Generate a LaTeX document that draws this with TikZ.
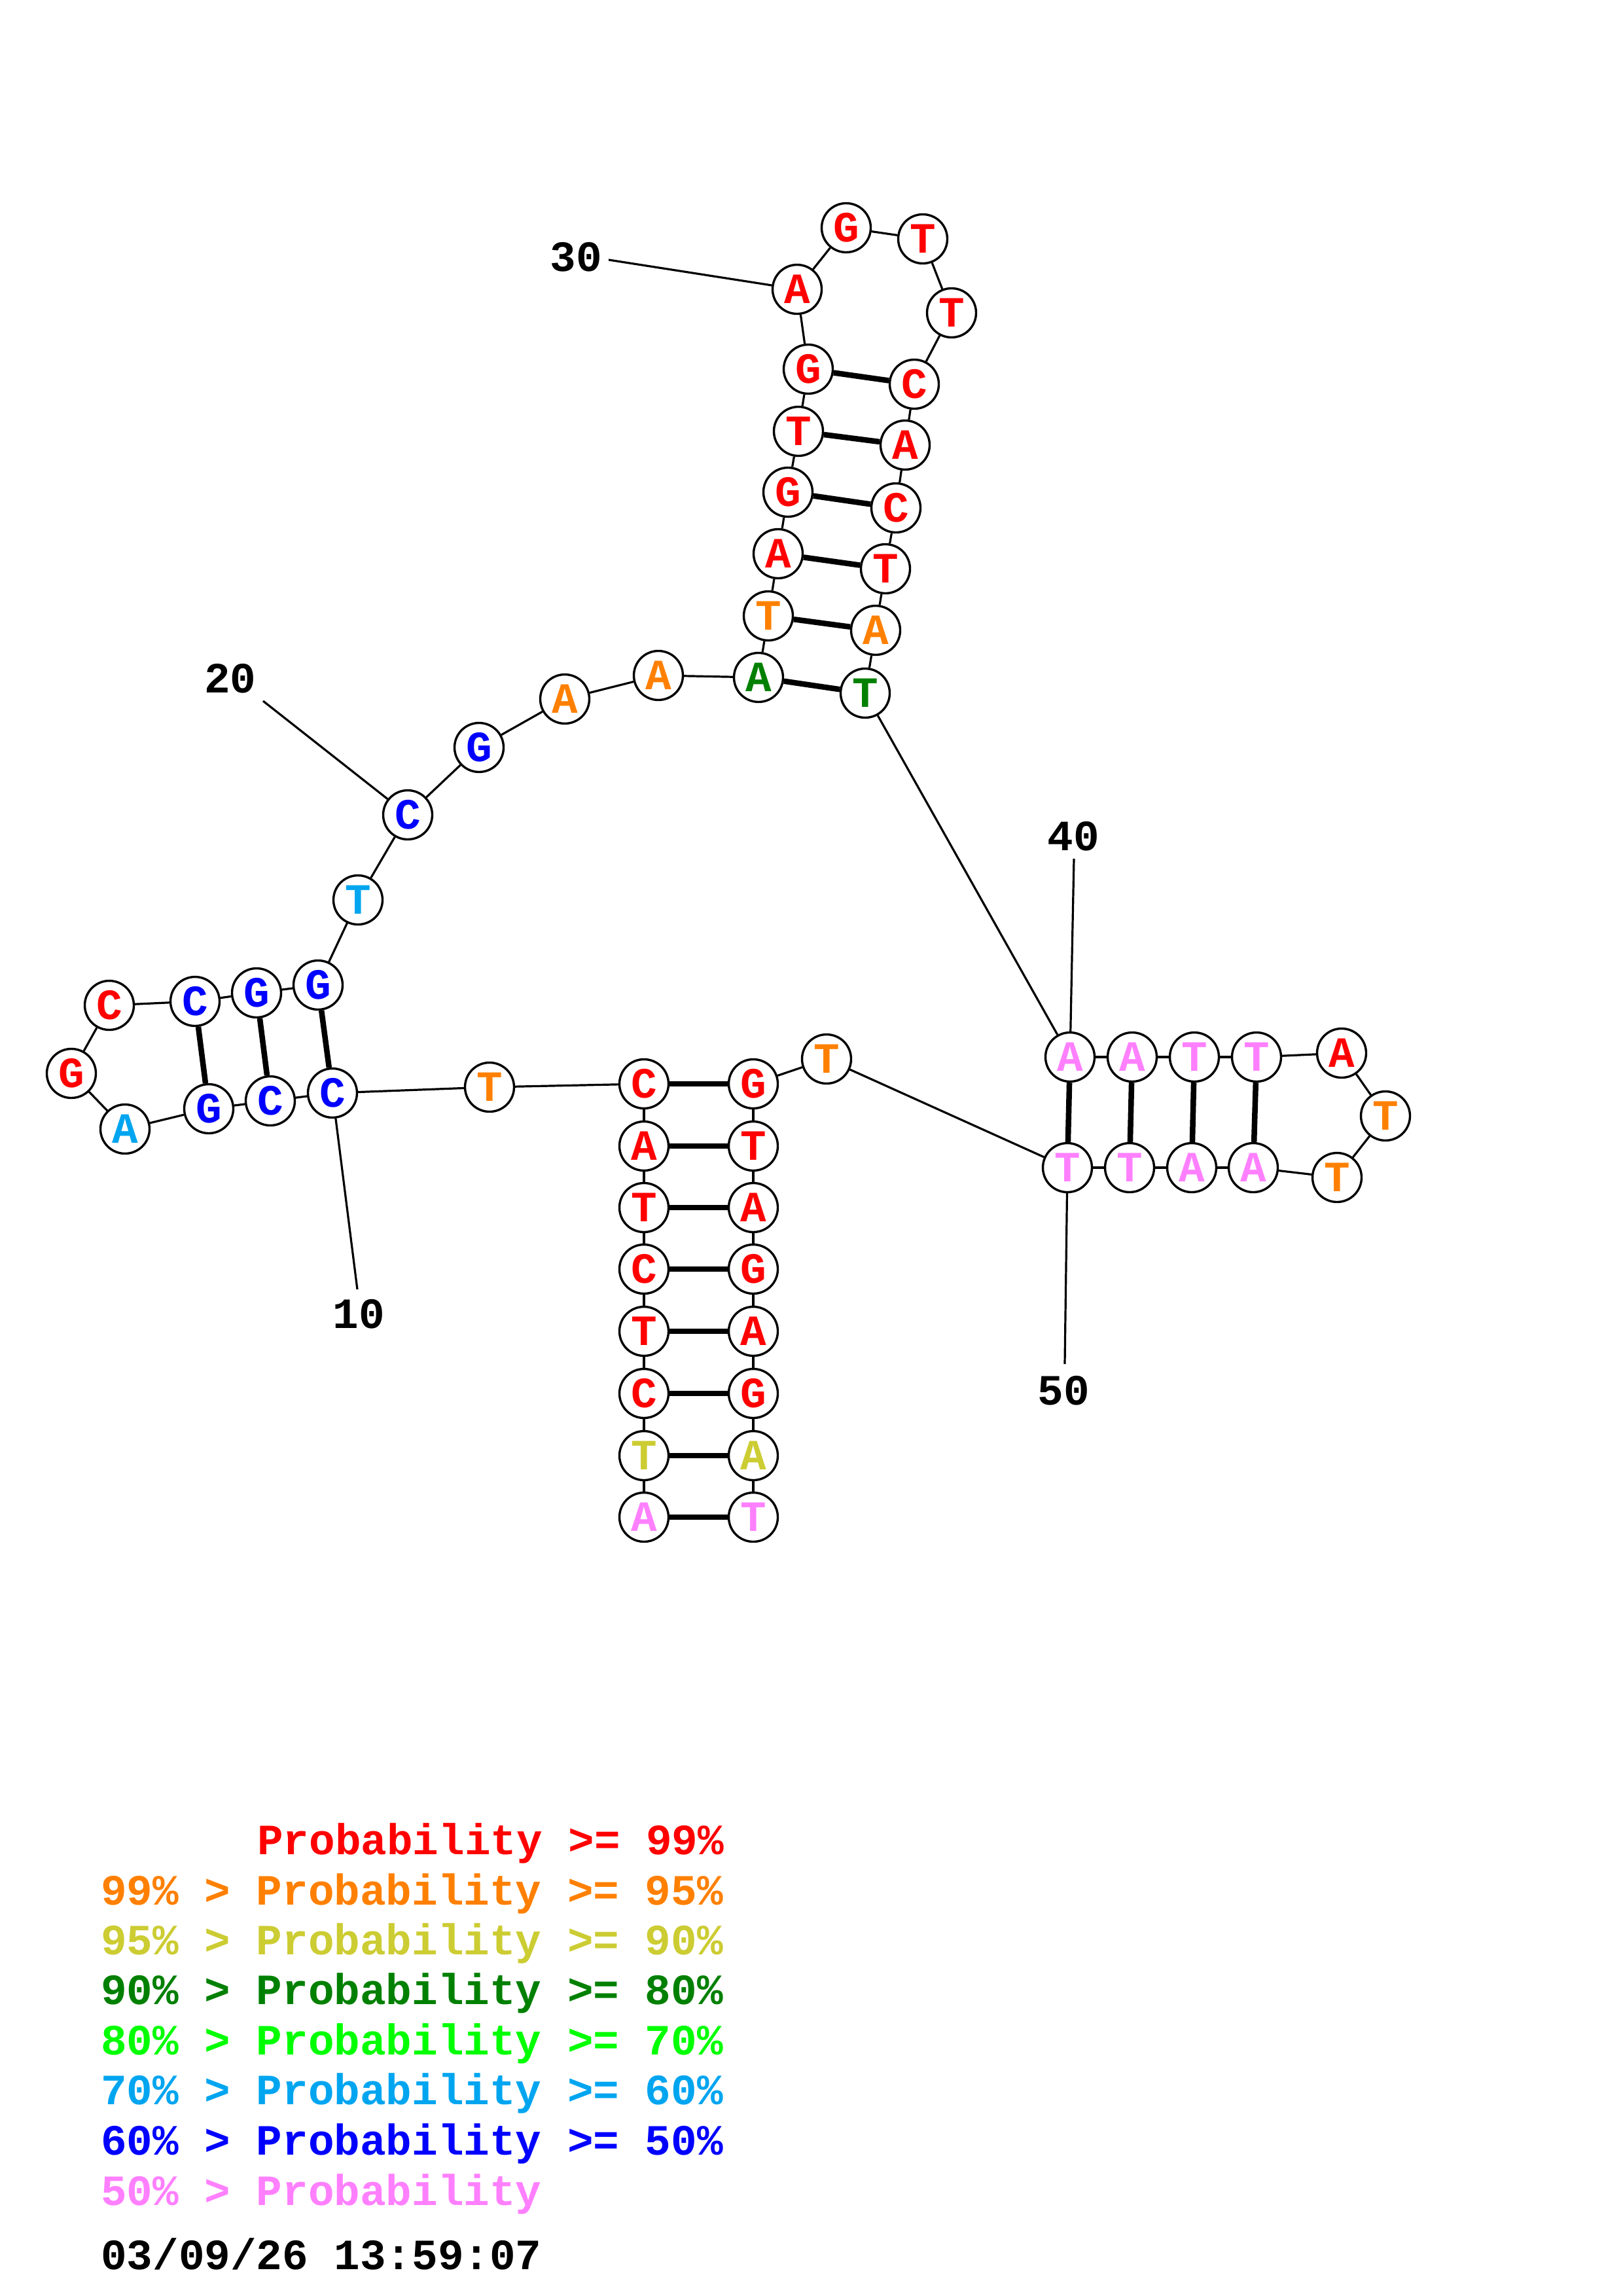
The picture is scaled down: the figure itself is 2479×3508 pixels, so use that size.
\documentclass[tikz,border=0pt]{standalone}
\usepackage{fontspec}
\setmonofont{Liberation Mono}
\definecolor{cred}{HTML}{FF0000}
\definecolor{cora}{HTML}{FF8000}
\definecolor{cyel}{HTML}{CCCC33}
\definecolor{cdkg}{HTML}{008000}
\definecolor{cgrn}{HTML}{00FF00}
\definecolor{ccya}{HTML}{00A5F0}
\definecolor{cblu}{HTML}{0000FF}
\definecolor{cpnk}{HTML}{FF80FF}
\newcommand{\bigmono}{\ttfamily\bfseries\fontsize{66}{70}\selectfont}
\tikzset{
  nt/.style={circle, draw=black, line width=3.4pt, fill=white, minimum size=75pt, inner sep=0pt, font=\bigmono},
  bb/.style={draw=black, line width=3.2pt},
  bond/.style={draw=black, line width=8.5pt},
  numlbl/.style={font=\bigmono, text=black, inner sep=0pt},
  leg/.style={font=\bigmono, anchor=base west, inner sep=0pt}
}
\begin{document}
\begin{tikzpicture}[x=1pt,y=-1pt]
\useasboundingbox[fill=white] (0,0) rectangle (2479,3508);
% nucleotides
\node[nt, text=cpnk] (n1) at (984,2318) {A};
\node[nt, text=cyel] (n2) at (984,2224) {T};
\node[nt, text=cred] (n3) at (984,2129) {C};
\node[nt, text=cred] (n4) at (984,2034) {T};
\node[nt, text=cred] (n5) at (984,1939) {C};
\node[nt, text=cred] (n6) at (984,1845) {T};
\node[nt, text=cred] (n7) at (984,1751) {A};
\node[nt, text=cred] (n8) at (984,1656) {C};
\node[nt, text=cora] (n9) at (748,1661) {T};
\node[nt, text=cblu] (n10) at (508,1670) {C};
\node[nt, text=cblu] (n11) at (413,1682) {C};
\node[nt, text=cblu] (n12) at (319,1694) {G};
\node[nt, text=ccya] (n13) at (191,1725) {A};
\node[nt, text=cred] (n14) at (109,1640) {G};
\node[nt, text=cred] (n15) at (167,1536) {C};
\node[nt, text=cblu] (n16) at (298,1530) {C};
\node[nt, text=cblu] (n17) at (392,1517) {G};
\node[nt, text=cblu] (n18) at (486,1505) {G};
\node[nt, text=ccya] (n19) at (547,1375) {T};
\node[nt, text=cblu] (n20) at (623,1245) {C};
\node[nt, text=cblu] (n21) at (732,1142) {G};
\node[nt, text=cora] (n22) at (863,1068) {A};
\node[nt, text=cora] (n23) at (1006,1032) {A};
\node[nt, text=cdkg] (n24) at (1159,1035) {A};
\node[nt, text=cora] (n25) at (1174,941) {T};
\node[nt, text=cred] (n26) at (1189,846) {A};
\node[nt, text=cred] (n27) at (1204,752) {G};
\node[nt, text=cred] (n28) at (1220,659) {T};
\node[nt, text=cred] (n29) at (1235,564) {G};
\node[nt, text=cred] (n30) at (1218,442) {A};
\node[nt, text=cred] (n31) at (1293,348) {G};
\node[nt, text=cred] (n32) at (1410,365) {T};
\node[nt, text=cred] (n33) at (1454,478) {T};
\node[nt, text=cred] (n34) at (1397,587) {C};
\node[nt, text=cred] (n35) at (1383,680) {A};
\node[nt, text=cred] (n36) at (1369,776) {C};
\node[nt, text=cred] (n37) at (1353,869) {T};
\node[nt, text=cora] (n38) at (1338,963) {A};
\node[nt, text=cdkg] (n39) at (1322,1059) {T};
\node[nt, text=cpnk] (n40) at (1635,1615) {A};
\node[nt, text=cpnk] (n41) at (1730,1615) {A};
\node[nt, text=cpnk] (n42) at (1825,1615) {T};
\node[nt, text=cpnk] (n43) at (1920,1615) {T};
\node[nt, text=cred] (n44) at (2050,1609) {A};
\node[nt, text=cora] (n45) at (2117,1705) {T};
\node[nt, text=cora] (n46) at (2043,1799) {T};
\node[nt, text=cpnk] (n47) at (1915,1784) {A};
\node[nt, text=cpnk] (n48) at (1821,1784) {A};
\node[nt, text=cpnk] (n49) at (1726,1784) {T};
\node[nt, text=cpnk] (n50) at (1631,1784) {T};
\node[nt, text=cora] (n51) at (1263,1618) {T};
\node[nt, text=cred] (n52) at (1151,1656) {G};
\node[nt, text=cred] (n53) at (1151,1751) {T};
\node[nt, text=cred] (n54) at (1151,1845) {A};
\node[nt, text=cred] (n55) at (1151,1939) {G};
\node[nt, text=cred] (n56) at (1151,2034) {A};
\node[nt, text=cred] (n57) at (1151,2129) {G};
\node[nt, text=cyel] (n58) at (1151,2224) {A};
\node[nt, text=cpnk] (n59) at (1151,2318) {T};
% backbone
\foreach \i [evaluate=\i as \j using int(\i+1)] in {1,...,58}
  \draw[bb] (n\i) -- (n\j);
% base pairs
\foreach \a/\b in {1/59,2/58,3/57,4/56,5/55,6/54,7/53,8/52,10/18,11/17,12/16,24/39,25/38,26/37,27/36,28/35,29/34,40/50,41/49,42/48,43/47}
  \draw[bond] (n\a) -- (n\b);
% position labels
\node[numlbl] (t10) at (548,2008) {10};
\node[numlbl] (t20) at (352,1037) {20};
\node[numlbl] (t30) at (880,393) {30};
\node[numlbl] (t40) at (1640,1278) {40};
\node[numlbl] (t50) at (1625,2125) {50};
\coordinate (e10) at (546,1970);
\coordinate (e20) at (402,1071);
\coordinate (e30) at (930,397);
\coordinate (e40) at (1641,1312);
\coordinate (e50) at (1627,2084);
\draw[bb] (n10) -- (e10);
\draw[bb] (n20) -- (e20);
\draw[bb] (n30) -- (e30);
\draw[bb] (n40) -- (e40);
\draw[bb] (n50) -- (e50);
% legend
\node[leg, text=cred] (g1) at (393,2833) {Probability >= 99\%};
\node[leg, text=cora] (g2) at (154,2910) {99\% > Probability >= 95\%};
\node[leg, text=cyel] (g3) at (154,2986) {95\% > Probability >= 90\%};
\node[leg, text=cdkg] (g4) at (154,3062) {90\% > Probability >= 80\%};
\node[leg, text=cgrn] (g5) at (154,3139) {80\% > Probability >= 70\%};
\node[leg, text=ccya] (g6) at (154,3215) {70\% > Probability >= 60\%};
\node[leg, text=cblu] (g7) at (154,3292) {60\% > Probability >= 50\%};
\node[leg, text=cpnk] (g8) at (154,3369) {50\% > Probability};
\node[leg, text=black] (g9) at (154,3467) {03/09/26 13:59:07};
\end{tikzpicture}
\end{document}
